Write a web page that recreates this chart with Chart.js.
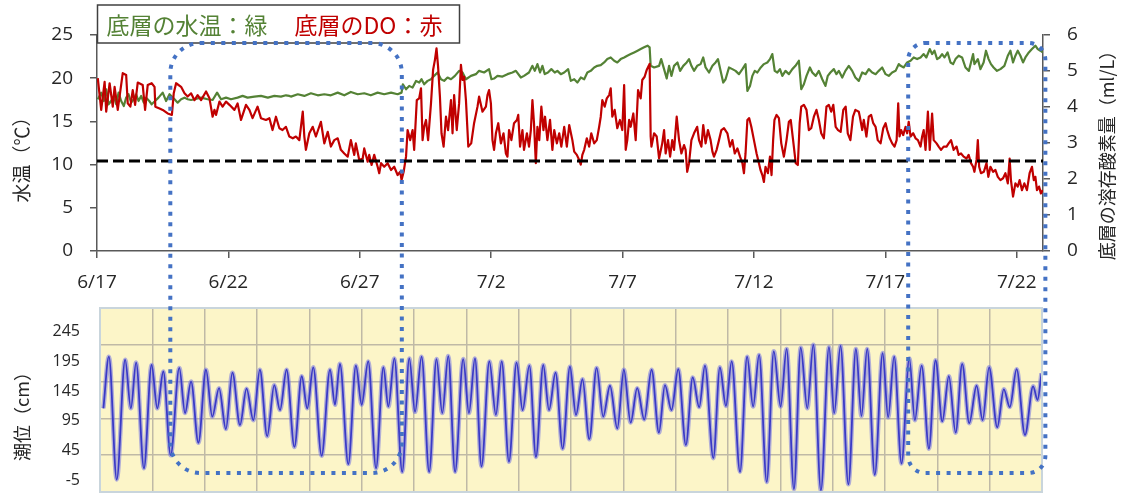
<!DOCTYPE html>
<html lang="ja">
<head>
<meta charset="utf-8">
<title>底層の水温・DOと潮位</title>
<script src="https://cdn.jsdelivr.net/npm/chart.js@4.4.1/dist/chart.umd.min.js"></script>
<style>
  html, body { margin: 0; padding: 0; background: #fff; }
  #wrap { position: relative; width: 1123px; height: 495px; overflow: hidden; }
  #topChart { position: absolute; left: 0; top: 0; }
  #tideChart { position: absolute; left: 0; top: 295px; }
  #spans { position: absolute; left: 0; top: 0; pointer-events: none; }
</style>
</head>
<body>
<div id="wrap">
  <canvas id="topChart" width="1123" height="300" style="width:1123px;height:300px"></canvas>
  <canvas id="tideChart" width="1123" height="200" style="width:1123px;height:200px"></canvas>
  <canvas id="spans" width="1123" height="495" style="width:1123px;height:495px"></canvas>
</div>
<script>
// ---- data (x = days elapsed since 6/17 00:00) ----
const xTickLabels = ['6/17', '6/22', '6/27', '7/2', '7/7', '7/12', '7/17', '7/22'];
const seriesLabels = ['底層の水温：緑', '底層のDO：赤'];
const axisTitles = ['水温（℃）', '底層の溶存酸素量（ml/L）', '潮位（cm）'];
const tideTickLabels = [-5, 45, 95, 145, 195, 245];
const doThreshold = 2.5;               // ml/L reference level
const highlightSpans = [[2.79, 11.6], [30.87, 36.09]];

// bottom-layer water temperature (°C)
const tempSeries = [
  [0.03,17.56],[0.16,18.33],[0.26,17.36],[0.35,18.72],[0.44,16.98],[0.54,17.36],[0.64,17.95],[0.73,16.98],
  [0.82,18.33],[0.92,17.36],[1.02,16.78],[1.11,17.75],[1.20,18.14],[1.30,17.17],[1.40,17.56],[1.49,18.14],
  [1.58,17.36],[1.68,17.95],[1.78,17.17],[1.87,17.75],[1.99,17.36],[2.08,16.98],[2.21,17.36],[2.34,17.75],
  [2.50,18.33],[2.63,17.36],[2.76,18.14],[2.95,17.56],[3.07,17.17],[3.20,17.56],[3.33,17.75],[3.45,17.56],
  [3.58,17.48],[3.71,17.56],[3.96,17.75],[4.21,17.56],[4.40,17.48],[4.57,18.33],[4.72,17.56],[4.91,17.75],
  [5.10,17.56],[5.35,17.75],[5.54,17.95],[5.73,17.75],[5.99,17.87],[6.24,17.95],[6.50,17.75],[6.75,17.95],
  [7.00,17.87],[7.19,18.02],[7.32,17.95],[7.38,17.87],[7.64,18.14],[7.89,17.95],[8.14,18.26],[8.40,18.02],
  [8.65,18.14],[8.90,18.02],[9.16,18.33],[9.41,18.02],[9.66,18.41],[9.92,18.14],[10.17,18.26],[10.42,18.02],
  [10.68,18.33],[10.93,18.14],[11.19,18.33],[11.44,18.14],[11.59,18.33],[11.64,19.30],[11.76,18.72],[11.88,19.11],
  [12.01,18.91],[12.14,19.69],[12.26,19.50],[12.35,19.88],[12.45,19.30],[12.58,19.69],[12.71,19.88],[12.83,20.27],
  [12.96,20.66],[13.09,19.88],[13.21,19.69],[13.34,20.08],[13.47,19.88],[13.62,20.27],[13.78,20.85],[13.91,20.66],
  [14.04,19.88],[14.23,20.27],[14.42,20.47],[14.54,20.85],[14.73,20.66],[14.92,21.05],[15.01,19.88],[15.11,19.96],
  [15.24,20.27],[15.43,20.19],[15.62,20.47],[15.81,20.66],[15.94,20.85],[16.13,20.08],[16.25,20.27],[16.44,20.66],
  [16.57,21.43],[16.66,20.85],[16.76,21.63],[16.86,20.66],[16.95,21.43],[17.04,20.47],[17.16,20.66],[17.29,21.05],
  [17.42,20.66],[17.52,20.85],[17.65,20.47],[17.78,20.66],[17.93,21.05],[18.03,19.69],[18.16,19.88],[18.28,19.50],
  [18.41,20.08],[18.54,19.88],[18.66,20.66],[18.79,20.85],[18.92,21.24],[19.04,21.43],[19.17,21.51],[19.30,21.82],
  [19.42,22.21],[19.55,22.40],[19.68,22.02],[19.80,21.82],[19.93,22.21],[20.06,22.40],[20.18,22.60],[20.31,22.79],
  [20.44,22.98],[20.57,23.18],[20.69,23.37],[20.82,23.57],[20.95,23.76],[21.03,23.57],[21.07,21.43],[21.20,21.24],
  [21.39,21.43],[21.47,22.21],[21.58,21.05],[21.68,19.96],[21.77,21.43],[21.86,20.27],[21.96,21.43],[22.09,21.82],
  [22.19,20.85],[22.31,21.43],[22.44,21.82],[22.53,22.21],[22.62,21.43],[22.72,20.85],[22.84,21.43],[22.97,21.63],
  [23.07,22.40],[23.16,21.24],[23.29,20.66],[23.42,21.43],[23.54,21.82],[23.63,22.21],[23.73,20.85],[23.83,19.50],
  [23.92,19.88],[24.05,21.24],[24.18,21.05],[24.30,20.85],[24.43,20.47],[24.56,21.05],[24.68,21.63],[24.75,18.53],
  [24.85,19.11],[24.94,20.27],[25.03,20.85],[25.13,20.66],[25.26,21.24],[25.38,21.63],[25.51,21.82],[25.61,22.21],
  [25.70,22.79],[25.79,20.85],[25.89,20.66],[25.99,21.05],[26.08,20.27],[26.20,20.85],[26.33,20.47],[26.46,21.05],
  [26.58,21.43],[26.71,22.02],[26.80,18.72],[26.90,19.30],[27.00,20.27],[27.13,21.24],[27.22,20.66],[27.35,20.27],
  [27.47,20.85],[27.60,19.88],[27.72,19.11],[27.81,20.27],[27.91,20.66],[28.04,21.05],[28.14,20.47],[28.23,20.85],
  [28.36,20.08],[28.48,20.85],[28.61,21.43],[28.74,20.85],[28.86,20.08],[28.99,19.69],[29.12,20.66],[29.25,20.47],
  [29.37,21.05],[29.50,20.66],[29.63,20.47],[29.75,20.85],[29.88,21.24],[30.01,20.47],[30.13,20.27],[30.26,20.66],
  [30.39,20.85],[30.51,21.63],[30.58,21.43],[30.70,21.24],[30.83,21.82],[30.96,22.02],[31.08,22.40],[31.21,22.21],
  [31.34,22.40],[31.46,22.79],[31.56,22.40],[31.69,23.37],[31.78,22.79],[31.87,23.18],[31.97,22.21],[32.07,22.40],
  [32.16,22.79],[32.25,22.40],[32.37,22.98],[32.48,21.82],[32.58,21.63],[32.67,22.21],[32.79,22.60],[32.92,22.40],
  [33.05,21.24],[33.18,20.85],[33.26,21.82],[33.34,22.79],[33.39,21.63],[33.52,22.21],[33.62,21.05],[33.74,21.82],
  [33.83,23.18],[33.93,22.21],[34.02,21.63],[34.12,21.24],[34.25,20.85],[34.38,21.05],[34.53,21.43],[34.66,22.60],
  [34.76,23.18],[34.86,21.82],[34.95,22.60],[35.04,23.18],[35.14,22.60],[35.24,21.82],[35.33,22.40],[35.46,22.98],
  [35.58,23.37],[35.71,23.76],[35.80,23.37],[35.90,23.18],[35.99,22.98]
];

// bottom-layer dissolved oxygen (ml/L)
const doSeries = [
  [0.03,4.80],[0.16,3.92],[0.29,4.70],[0.35,3.87],[0.48,4.66],[0.60,4.01],[0.67,4.56],[0.79,3.92],
  [0.98,4.94],[1.11,4.89],[1.17,4.10],[1.27,4.01],[1.36,4.47],[1.45,4.06],[1.55,4.68],[1.74,4.61],
  [1.83,3.92],[1.93,4.61],[2.08,4.66],[2.19,4.56],[2.22,4.01],[2.38,3.96],[2.50,3.92],[2.69,3.82],
  [2.85,3.78],[2.92,4.38],[3.01,4.66],[3.20,4.56],[3.33,4.38],[3.45,4.29],[3.58,4.38],[3.71,4.19],
  [3.83,4.33],[3.96,4.19],[4.15,4.43],[4.28,4.24],[4.40,3.73],[4.47,3.92],[4.53,3.78],[4.66,4.15],
  [4.78,4.01],[4.91,4.15],[5.04,4.06],[5.23,3.92],[5.35,4.10],[5.48,3.64],[5.67,4.06],[5.80,3.92],
  [5.92,3.69],[6.11,4.01],[6.24,3.69],[6.43,3.64],[6.56,3.69],[6.68,3.36],[6.81,3.73],[6.94,3.41],
  [7.06,3.36],[7.19,3.45],[7.32,3.18],[7.45,3.13],[7.57,3.18],[7.70,3.08],[7.83,3.87],[7.89,3.18],
  [7.95,2.81],[8.08,3.27],[8.21,3.45],[8.33,3.18],[8.52,3.59],[8.65,2.99],[8.78,3.31],[8.90,2.90],
  [9.03,3.08],[9.16,3.13],[9.28,2.81],[9.41,2.71],[9.54,2.62],[9.66,3.08],[9.79,2.67],[9.85,2.99],
  [9.98,2.53],[10.11,2.57],[10.17,2.85],[10.30,2.48],[10.36,2.67],[10.45,2.39],[10.55,2.67],[10.68,2.34],
  [10.74,2.16],[10.81,2.44],[10.93,2.34],[11.06,2.44],[11.19,2.25],[11.31,2.34],[11.44,2.11],[11.54,2.20],
  [11.59,1.97],[11.67,2.20],[11.76,2.62],[11.82,3.36],[11.92,3.08],[12.01,3.36],[12.07,2.81],[12.17,4.19],
  [12.26,4.24],[12.33,4.52],[12.39,3.08],[12.45,3.45],[12.52,3.64],[12.60,3.08],[12.71,4.10],[12.79,5.03],
  [12.86,5.31],[12.92,5.63],[12.98,5.12],[13.05,4.29],[13.11,3.27],[13.19,2.90],[13.28,3.73],[13.36,3.36],
  [13.47,4.19],[13.53,3.27],[13.59,4.33],[13.69,3.36],[13.78,4.10],[13.85,5.17],[13.91,4.75],[13.97,4.84],
  [14.04,4.19],[14.13,2.90],[14.24,2.99],[14.35,3.55],[14.48,4.01],[14.54,4.29],[14.67,3.87],[14.80,4.01],
  [14.86,4.33],[14.92,4.47],[14.99,4.10],[15.05,3.08],[15.11,2.81],[15.18,3.27],[15.27,3.55],[15.37,2.99],
  [15.47,3.27],[15.56,2.71],[15.62,2.62],[15.68,3.36],[15.77,3.08],[15.87,3.55],[15.98,3.64],[16.03,3.78],
  [16.10,2.90],[16.19,3.36],[16.25,2.81],[16.36,3.27],[16.44,2.90],[16.51,3.36],[16.57,4.19],[16.63,3.55],
  [16.70,2.44],[16.76,3.45],[16.83,3.08],[16.91,4.01],[16.99,3.36],[17.05,3.73],[17.14,3.08],[17.24,3.64],
  [17.33,2.81],[17.40,3.36],[17.50,2.99],[17.59,3.27],[17.67,2.90],[17.78,3.45],[17.88,2.90],[17.97,3.50],
  [18.09,3.08],[18.16,2.76],[18.26,2.67],[18.35,2.53],[18.41,2.40],[18.47,2.67],[18.54,2.81],[18.64,3.13],
  [18.73,2.90],[18.81,3.27],[18.92,2.99],[19.02,3.08],[19.11,3.45],[19.17,3.73],[19.23,4.19],[19.32,4.01],
  [19.40,4.24],[19.49,4.33],[19.55,4.52],[19.61,3.73],[19.70,3.92],[19.80,3.41],[19.90,3.64],[19.99,3.36],
  [20.06,4.61],[20.12,2.81],[20.18,3.08],[20.25,3.64],[20.31,3.45],[20.41,3.82],[20.50,3.08],[20.59,4.47],
  [20.69,4.24],[20.75,4.75],[20.84,4.84],[20.92,5.03],[21.01,5.17],[21.03,5.20],[21.07,3.18],[21.10,2.90],
  [21.20,3.27],[21.30,3.18],[21.39,2.57],[21.51,2.99],[21.58,3.36],[21.64,2.71],[21.73,3.08],[21.81,2.62],
  [21.89,3.08],[21.96,2.81],[22.06,3.73],[22.15,3.08],[22.24,2.71],[22.34,2.94],[22.40,2.81],[22.46,2.20],
  [22.53,2.44],[22.62,3.08],[22.72,3.27],[22.84,3.45],[22.91,3.08],[23.00,2.90],[23.07,3.50],[23.16,2.99],
  [23.25,3.36],[23.35,3.08],[23.42,2.76],[23.48,2.62],[23.58,2.81],[23.67,3.08],[23.76,3.36],[23.86,3.41],
  [23.99,3.27],[24.09,2.90],[24.18,3.08],[24.27,2.71],[24.37,2.85],[24.47,2.62],[24.56,2.44],[24.62,2.16],
  [24.68,2.71],[24.75,3.64],[24.82,3.69],[24.90,3.45],[25.00,3.08],[25.10,2.71],[25.19,2.44],[25.25,2.25],
  [25.32,2.11],[25.38,1.92],[25.44,2.34],[25.53,2.16],[25.61,2.62],[25.67,2.11],[25.73,3.08],[25.78,3.64],
  [25.86,3.78],[25.95,3.69],[26.04,2.99],[26.14,2.62],[26.24,3.08],[26.33,3.59],[26.40,3.64],[26.49,3.08],
  [26.59,2.44],[26.67,2.39],[26.74,3.55],[26.80,4.01],[26.90,4.06],[27.00,3.92],[27.09,3.36],[27.18,3.41],
  [27.28,3.73],[27.38,3.92],[27.47,3.64],[27.56,3.27],[27.66,3.13],[27.76,4.01],[27.85,4.06],[27.94,3.87],
  [28.02,4.06],[28.11,3.45],[28.20,3.36],[28.30,3.31],[28.40,3.92],[28.49,4.01],[28.57,3.27],[28.67,3.08],
  [28.77,3.73],[28.86,3.92],[28.99,3.87],[29.03,3.73],[29.12,3.36],[29.18,3.64],[29.28,3.18],[29.37,3.73],
  [29.46,3.78],[29.54,3.55],[29.63,3.45],[29.71,3.08],[29.82,2.99],[29.92,3.41],[30.01,3.55],[30.07,3.36],
  [30.17,3.13],[30.26,2.99],[30.35,2.90],[30.43,3.08],[30.49,4.10],[30.54,3.18],[30.60,3.36],[30.68,3.22],
  [30.77,3.45],[30.83,3.27],[30.89,3.59],[30.96,3.18],[31.06,3.27],[31.15,3.13],[31.24,3.08],[31.34,2.90],
  [31.40,3.18],[31.46,3.36],[31.53,2.81],[31.62,3.87],[31.69,2.81],[31.78,3.82],[31.84,3.08],[31.95,2.99],
  [32.03,2.90],[32.12,2.81],[32.22,2.90],[32.33,2.90],[32.41,2.99],[32.50,3.08],[32.60,2.81],[32.71,2.90],
  [32.79,2.67],[32.88,2.71],[32.98,2.62],[33.09,2.57],[33.17,2.67],[33.26,2.44],[33.34,2.34],[33.39,2.20],
  [33.47,2.53],[33.52,3.08],[33.57,2.34],[33.64,2.16],[33.75,2.20],[33.85,2.44],[33.92,2.06],[34.00,2.34],
  [34.10,2.20],[34.19,2.25],[34.28,2.06],[34.38,1.97],[34.48,2.02],[34.57,2.16],[34.66,1.88],[34.73,2.57],
  [34.78,1.97],[34.86,1.51],[34.95,1.88],[35.04,1.79],[35.11,1.97],[35.20,1.69],[35.29,1.88],[35.39,1.69],
  [35.49,2.16],[35.58,2.34],[35.65,1.97],[35.71,2.06],[35.77,1.69],[35.85,1.79],[35.92,1.60],[35.99,1.69]
];

// tide level turning points (cm)
const tideSeries = [
  [0.13,116],[0.34,203],[0.64,-4],[0.96,198],[1.18,116],[1.38,193],[1.68,15],[1.97,189],
  [2.19,116],[2.42,178],[2.70,37],[3.03,184],[3.25,108],[3.48,161],[3.76,58],[4.05,181],
  [4.29,102],[4.55,150],[4.81,81],[5.06,176],[5.35,88],[5.60,149],[5.86,96],[6.11,181],
  [6.39,69],[6.66,155],[6.88,113],[7.13,181],[7.43,51],[7.71,170],[7.92,116],[8.15,185],
  [8.47,36],[8.79,181],[8.98,122],[9.17,191],[9.49,22],[9.78,188],[10.00,122],[10.25,195],
  [10.55,15],[10.83,185],[11.02,119],[11.25,200],[11.55,9],[11.82,200],[12.04,110],[12.29,203],
  [12.58,9],[12.86,199],[13.08,108],[13.31,204],[13.57,9],[13.88,199],[14.10,108],[14.33,200],
  [14.58,18],[14.88,195],[15.13,105],[15.35,195],[15.63,26],[15.92,193],[16.15,113],[16.41,188],
  [16.66,34],[16.94,189],[17.16,113],[17.41,176],[17.68,48],[17.96,186],[18.19,105],[18.44,165],
  [18.70,64],[18.98,184],[19.23,102],[19.49,154],[19.77,82],[20.02,181],[20.28,92],[20.53,150],
  [20.80,97],[21.08,181],[21.36,75],[21.59,155],[21.84,113],[22.10,182],[22.39,54],[22.65,168],
  [22.90,118],[23.12,188],[23.44,32],[23.69,185],[23.92,120],[24.14,195],[24.46,9],[24.73,203],
  [24.96,119],[25.19,206],[25.48,-8],[25.75,212],[26.01,119],[26.24,216],[26.52,-20],[26.78,218],
  [27.03,116],[27.26,223],[27.55,-22],[27.86,219],[28.06,108],[28.30,221],[28.60,-12],[28.89,216],
  [29.10,103],[29.32,216],[29.61,4],[29.91,209],[30.12,101],[30.35,203],[30.63,23],[30.93,200],
  [31.14,96],[31.40,188],[31.68,48],[31.93,197],[32.19,94],[32.44,170],[32.70,75],[32.95,191],
  [33.22,91],[33.50,154],[33.73,96],[33.98,185],[34.29,84],[34.54,148],[34.77,118],[35.03,182],
  [35.35,71],[35.66,153],[35.83,130],[35.98,175]
];

// ---- styling ----
const FONT = "'Open Sans','Noto Sans CJK JP',sans-serif";
const JP_FONT = "'Noto Sans CJK JP','Open Sans',sans-serif";
const GREEN = '#548235';
const RED = '#c00000';
const AXIS = '#595959';
const TEXT = '#262626';

Chart.defaults.font.family = FONT;
Chart.defaults.color = TEXT;

const toPoints = s => s.map(([x, y]) => ({ x, y }));

// y scales: fixed width, no extra vertical padding for the end labels
const fixWidth = w => s => { s.width = w; s.paddingTop = 0; s.paddingBottom = 0; };

// legend box and rotated axis titles drawn on the upper chart
const topDecor = {
  id: 'topDecor',
  afterDraw(chart) {
    const { ctx, chartArea } = chart;
    ctx.save();
    const bx = chartArea.left + 0.5, by = 5, bw = 362, bh = 38;
    ctx.fillStyle = '#fff';
    ctx.fillRect(bx, by, bw, bh);
    ctx.strokeStyle = '#404040';
    ctx.lineWidth = 1.5;
    ctx.strokeRect(bx, by, bw, bh);
    ctx.font = `23px ${JP_FONT}`;
    ctx.textBaseline = 'middle';
    ctx.textAlign = 'left';
    ctx.fillStyle = GREEN;
    ctx.fillText(seriesLabels[0], bx + 9, by + bh / 2 + 1);
    ctx.fillStyle = RED;
    ctx.fillText(seriesLabels[1], bx + 197, by + bh / 2 + 1);

    ctx.fillStyle = TEXT;
    ctx.textAlign = 'center';
    ctx.font = `19px ${JP_FONT}`;
    ctx.translate(22, chartArea.top + 120);
    ctx.rotate(-Math.PI / 2);
    ctx.fillText(axisTitles[0], 0, 0);
    ctx.setTransform(1, 0, 0, 1, 0, 0);
    ctx.font = `18px ${JP_FONT}`;
    ctx.translate(1107, chartArea.top + 116);
    ctx.rotate(-Math.PI / 2);
    ctx.fillText(axisTitles[1], 0, 0);
    ctx.restore();
  }
};

// pale yellow plot background, frame and axis title for the tide chart
const tideDecor = {
  id: 'tideDecor',
  beforeDraw(chart) {
    const { ctx, chartArea: a } = chart;
    ctx.save();
    ctx.fillStyle = '#fcf5c8';
    ctx.fillRect(a.left, a.top, a.right - a.left, a.bottom - a.top);
    ctx.restore();
  },
  afterDraw(chart) {
    const { ctx, chartArea: a } = chart;
    ctx.save();
    ctx.strokeStyle = '#c9d5dc';
    ctx.lineWidth = 2;
    ctx.strokeRect(a.left, a.top, a.right - a.left, a.bottom - a.top);
    ctx.fillStyle = TEXT;
    ctx.font = `18px ${JP_FONT}`;
    ctx.textAlign = 'center';
    ctx.textBaseline = 'middle';
    ctx.translate(22, a.top + 104);
    ctx.rotate(-Math.PI / 2);
    ctx.fillText(axisTitles[2], 0, 0);
    ctx.restore();
  }
};

const tickFont = { family: FONT, size: 19 };
const axisGrid = { drawOnChartArea: false, drawTicks: true, tickLength: 7, color: AXIS, lineWidth: 1.5 };
const axisBorder = { display: true, color: AXIS, width: 1.5 };

const topChart = new Chart(document.getElementById('topChart'), {
  type: 'line',
  data: {
    datasets: [
      {
        label: 'DO 2.5',
        data: [{ x: 0, y: doThreshold }, { x: 36, y: doThreshold }],
        yAxisID: 'yDO',
        borderColor: '#000',
        borderWidth: 3,
        borderDash: [11, 5],
        pointRadius: 0
      },
      {
        label: seriesLabels[1],
        data: toPoints(doSeries),
        yAxisID: 'yDO',
        borderColor: RED,
        borderWidth: 2.2,
        borderJoinStyle: 'round',
        pointRadius: 0
      },
      {
        label: seriesLabels[0],
        data: toPoints(tempSeries),
        yAxisID: 'yT',
        borderColor: GREEN,
        borderWidth: 2.2,
        borderJoinStyle: 'round',
        pointRadius: 0
      }
    ]
  },
  options: {
    responsive: false,
    animation: false,
    devicePixelRatio: 1,
    layout: { padding: { top: 35, left: 0, right: 0, bottom: 0 } },
    plugins: { legend: { display: false }, tooltip: { enabled: false } },
    scales: {
      x: {
        type: 'linear', min: 0, max: 36,
        afterFit(s) { s.height = 49; },
        ticks: {
          stepSize: 5, includeBounds: false, autoSkip: false, maxRotation: 0,
          padding: 13, color: TEXT, font: tickFont,
          callback: v => xTickLabels[Math.round(v / 5)]
        },
        grid: axisGrid,
        border: axisBorder
      },
      yT: {
        position: 'left', min: 0, max: 25,
        afterFit: fixWidth(97),
        ticks: { stepSize: 5, padding: 17, color: TEXT, font: tickFont },
        grid: axisGrid,
        border: axisBorder
      },
      yDO: {
        position: 'right', min: 0, max: 6,
        afterFit: fixWidth(80),
        ticks: { stepSize: 1, padding: 17, color: TEXT, font: tickFont },
        grid: axisGrid,
        border: axisBorder
      }
    }
  },
  plugins: [topDecor]
});

const tideChart = new Chart(document.getElementById('tideChart'), {
  type: 'line',
  data: {
    datasets: [
      {
        label: '潮位',
        data: toPoints(tideSeries),
        borderColor: '#3a3ac6',
        borderWidth: 1.8,
        cubicInterpolationMode: 'monotone',
        pointRadius: 0
      },
      {
        label: '潮位 (halo)',
        data: toPoints(tideSeries),
        borderColor: 'rgba(115,115,225,0.55)',
        borderWidth: 4.5,
        cubicInterpolationMode: 'monotone',
        pointRadius: 0
      }
    ]
  },
  options: {
    responsive: false,
    animation: false,
    devicePixelRatio: 1,
    layout: { padding: { top: 13, left: 0, right: 81, bottom: 3 } },
    plugins: { legend: { display: false }, tooltip: { enabled: false } },
    scales: {
      x: {
        type: 'linear', min: 0, max: 36,
        afterFit(s) { s.height = 0; },
        ticks: { display: false, stepSize: 2 },
        grid: { color: '#bfb9a6', lineWidth: 1.5, drawTicks: false },
        border: { display: false }
      },
      y: {
        position: 'left', min: -25, max: 285,
        afterFit: fixWidth(100),
        afterBuildTicks(s) { s.ticks = tideTickLabels.map(v => ({ value: v })); },
        ticks: { padding: 12, color: TEXT, font: { family: FONT, size: 16 } },
        grid: { display: false },
        border: { display: false }
      },
      yGrid: {
        position: 'right', min: 0, max: 5,
        afterFit: fixWidth(0),
        ticks: { display: false, stepSize: 1 },
        grid: { color: '#bfb9a6', lineWidth: 1.5, drawTicks: false },
        border: { display: false }
      }
    }
  },
  plugins: [tideDecor]
});

// dotted rounded frames spanning both charts over the highlighted periods
function drawSpans() {
  const canvas = document.getElementById('spans');
  const ctx = canvas.getContext('2d');
  const xs = topChart.scales.x;
  const tideTop = document.getElementById('tideChart').offsetTop;
  const top = topChart.chartArea.top + 8;
  const bottom = tideTop + tideChart.chartArea.bottom - 19;
  const radii = [30, 17];
  ctx.save();
  ctx.strokeStyle = '#4472c4';
  ctx.lineWidth = 4;
  ctx.setLineDash([4, 6.5]);
  highlightSpans.forEach(([from, to], i) => {
    const l = xs.getPixelForValue(from);
    const r = xs.getPixelForValue(to);
    ctx.beginPath();
    ctx.roundRect(l, top, r - l, bottom - top, radii[i]);
    ctx.stroke();
  });
  ctx.restore();
}
drawSpans();
</script>
</body>
</html>
